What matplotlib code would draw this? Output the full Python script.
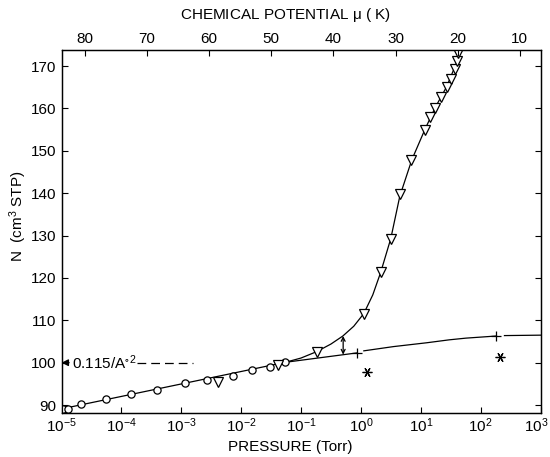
import numpy as np
import matplotlib
matplotlib.use("Agg")
import matplotlib.pyplot as plt
import matplotlib.transforms as mtransforms

plt.rcParams["font.family"] = ["Liberation Sans", "DejaVu Sans"]
plt.rcParams["mathtext.fontset"] = "custom"
plt.rcParams["mathtext.rm"] = "Liberation Sans"
plt.rcParams["mathtext.it"] = "Liberation Sans:italic"
plt.rcParams["mathtext.default"] = "regular"

# Adsorption isotherm data: pressure (Torr) vs amount adsorbed N (cm^3 STP)
circle_p = [1.07e-5, 1.3e-5, 2.1e-5, 5.5e-5, 1.43e-4, 4.0e-4, 1.15e-3,
            2.65e-3, 7.4e-3, 1.53e-2, 3.0e-2, 5.5e-2]
circle_n = [89.0, 89.1, 90.2, 91.4, 92.5, 93.6, 95.3, 95.9, 96.9, 98.2, 99.0, 100.1]

triangle_p = [4.15e-3, 4.2e-2, 0.182, 1.12, 2.13, 3.16, 4.48, 7.0, 11.7, 14.2,
              17.2, 22.2, 27.0, 31.4, 37.1, 40.6, 42.2]
triangle_n = [95.5, 99.4, 102.6, 111.6, 121.3, 129.3, 139.8, 147.9, 155.0, 157.9,
              160.2, 162.6, 165.1, 167.0, 169.2, 171.2, 173.0]

plus_p = [0.85, 184.0]
plus_n = [102.3, 106.3]

star_p = [1.27, 209.0]
star_n = [97.9, 101.3]

# Fitted curves (upper: multilayer branch, lower: monolayer branch)
upper_p = [0.055, 0.1, 0.182, 0.316, 0.50, 0.76, 1.12, 1.58, 2.14, 3.16, 4.47,
           7.1, 11.7, 17.4, 27.0, 40.7, 47.9]
upper_n = [100.1, 101.1, 102.6, 104.4, 106.3, 108.6, 111.6, 116.0, 121.3, 129.3,
           139.3, 147.9, 155.0, 160.2, 165.1, 171.2, 174.5]

lower_p = [1e-5, 5.5e-2, 0.85, np.nan, 1.12, 3.5, 12.5, 30.0, 57.0, 184.0,
           np.nan, 250.0, 1000.0]
lower_n = [89.1, 100.1, 102.3, np.nan, 102.8, 103.8, 104.7, 105.4, 105.8, 106.3,
           np.nan, 106.4, 106.5]

# Monolayer density marker
mono_n = 100.0
mono_p = [1.8e-4, 1.58e-3]
mono_label = "0.115/A$^{\\circ\\,2}$"

# Double arrow between the two branches
gap_p = 0.506
gap_n = [101.9, 106.3]

# Chemical potential scale: mu = MU_PER_DECADE * (log10(P0) - log10(P))
MU_PER_DECADE = 9.64
LOG_P0 = 3.691
mu_ticks = [80, 70, 60, 50, 40, 30, 20, 10]

x_ticks = [1e-5, 1e-4, 1e-3, 1e-2, 1e-1, 1e0, 1e1, 1e2, 1e3]
y_ticks = [90, 100, 110, 120, 130, 140, 150, 160, 170]

W, H = 550, 457
fs = 11
fig = plt.figure(figsize=(W / 100, H / 100), dpi=100)
ax = fig.add_axes([61.5 / W, 1 - 412.7 / H, 479.0 / W, 362.7 / H])

ax.set_xscale("log")
ax.set_xlim(1e-5, 1e3)
ax.set_ylim(88.2, 173.8)

lw = 0.9
ax.plot(lower_p, lower_n, color="black", lw=lw, zorder=2)
ax.plot(upper_p, upper_n, color="black", lw=lw, zorder=2)

ax.plot(circle_p, circle_n, linestyle="none", marker="o", ms=5.2,
        mfc="white", mec="black", mew=0.9, zorder=3)
ax.plot(triangle_p, triangle_n, linestyle="none", marker="v", ms=7.5,
        mfc="white", mec="black", mew=0.9, zorder=3)
ax.plot(plus_p, plus_n, linestyle="none", marker="+", ms=7,
        color="black", mew=0.9, zorder=3)
ax.plot(star_p, star_n, linestyle="none", marker=(6, 2, 90), ms=7,
        color="black", mew=0.9, zorder=3)

ax.plot(mono_p, [mono_n, mono_n], color="black", lw=lw, dashes=(7, 4))
ax.annotate(mono_label, xy=(0.0, mono_n), xycoords=ax.get_yaxis_transform(),
            xytext=(7.5, 0), textcoords="offset points", ha="left", va="center",
            fontsize=fs,
            arrowprops=dict(arrowstyle="-|>", color="black", lw=0.9,
                            shrinkA=0, shrinkB=0, mutation_scale=10))

ax.annotate("", xy=(gap_p, gap_n[0]), xytext=(gap_p, gap_n[1]),
            arrowprops=dict(arrowstyle="<->", color="black", lw=0.9,
                            shrinkA=0, shrinkB=0, mutation_scale=7))

ax.set_xticks(x_ticks)
ax.xaxis.set_minor_locator(matplotlib.ticker.NullLocator())
ax.set_yticks(y_ticks)
ax.tick_params(axis="both", which="major", direction="in", length=4.5,
               width=0.8, labelsize=fs, top=False, right=True)
ax.tick_params(axis="x", pad=3)
ax.tick_params(axis="y", pad=4)
for s in ax.spines.values():
    s.set_linewidth(0.9)

# keep the last pressure label inside the canvas
fig.canvas.draw()
last = ax.get_xticklabels()[-1]
last.set_transform(last.get_transform() +
                   mtransforms.ScaledTranslation(-4 / 100, 0, fig.dpi_scale_trans))

# Top axis in chemical potential
def to_mu(p):
    return MU_PER_DECADE * (LOG_P0 - np.log10(p))

ax_top = ax.twiny()
ax_top.set_xlim(to_mu(1e-5), to_mu(1e3))
ax_top.set_xticks(mu_ticks)
ax_top.tick_params(axis="x", direction="in", length=4.5, width=0.8,
                   labelsize=fs, pad=3)
for s in ax_top.spines.values():
    s.set_linewidth(0.9)

fig.text(285 / W, 1 - 15 / H, "CHEMICAL POTENTIAL $\\mu$ ( K)",
         ha="center", va="center", fontsize=fs)
fig.text(290 / W, 1 - 447 / H, "PRESSURE (Torr)",
         ha="center", va="center", fontsize=fs)
fig.text(18 / W, 1 - 216 / H, "N  (cm$^3$ STP)", rotation=90,
         ha="center", va="center", fontsize=fs)

fig.savefig("out.png", dpi=100)
